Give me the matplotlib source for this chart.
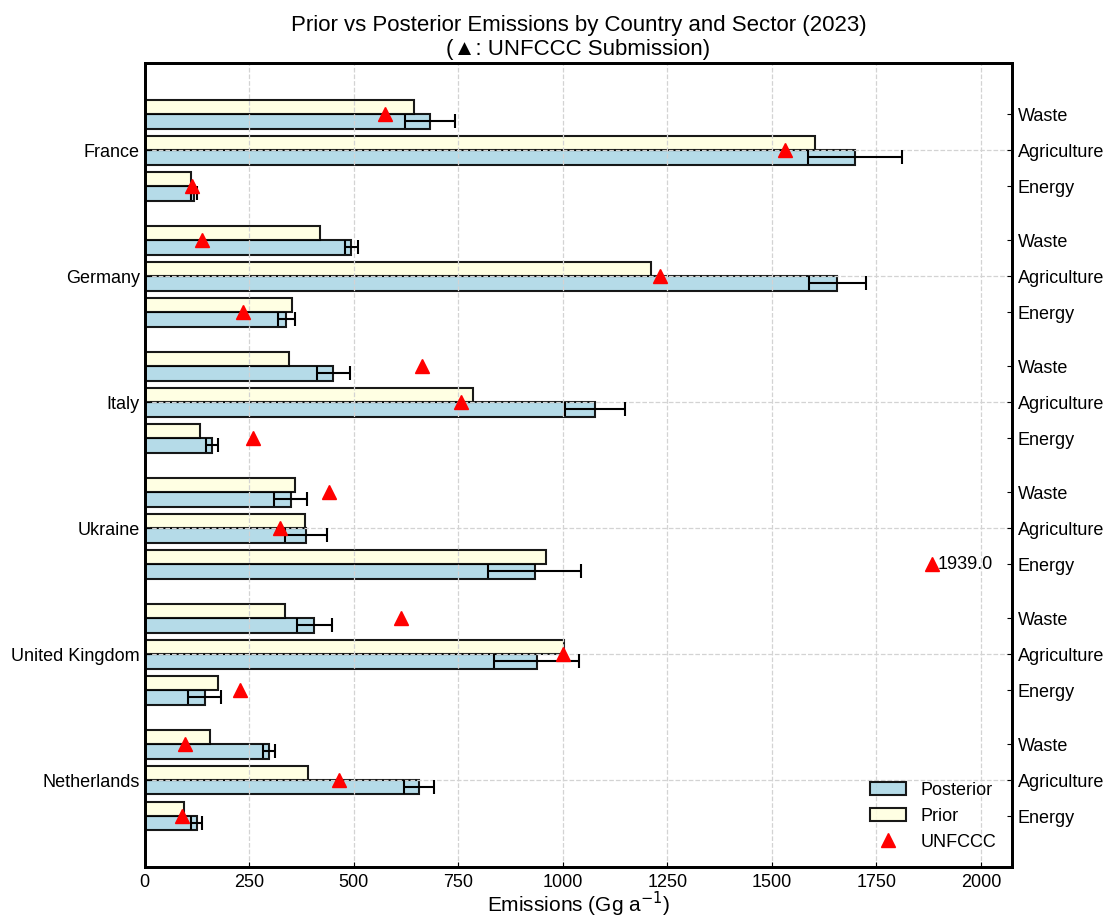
import numpy as np
import matplotlib
matplotlib.use("Agg")
import matplotlib.pyplot as plt

plt.rcParams['font.family'] = ['Liberation Sans', 'DejaVu Sans']

countries = ['France', 'Germany', 'Italy', 'Ukraine', 'United Kingdom', 'Netherlands']
sectors = ['Waste', 'Agriculture', 'Energy']

# rows follow countries, columns follow sectors (Waste, Agriculture, Energy)
prior = np.array([
    [644, 1602, 111],
    [418, 1211, 353],
    [346, 785, 132],
    [359, 384, 960],
    [335, 1002, 176],
    [156, 391, 93],
])
posterior = np.array([
    [683, 1699, 118],
    [494, 1656, 339],
    [451, 1077, 161],
    [349, 386, 933],
    [406, 937, 143],
    [297, 656, 124],
])
posterior_err = np.array([
    [60, 113, 7],
    [16, 68, 20],
    [39, 72, 15],
    [39, 50, 111],
    [42, 102, 39],
    [15, 35, 14],
])
unfccc = np.array([
    [574, 1531, 112],
    [138, 1233, 234],
    [662, 756, 259],
    [441, 323, 1939.0],
    [613, 1000, 229],
    [96, 465, 90],
])

group_gap = 3.5
bar_h = 0.4
xmax = unfccc.max() * 1.07

fig, ax = plt.subplots(figsize=(11.05, 9.17), dpi=100)
fig.subplots_adjust(left=0.131, right=0.916, top=0.931, bottom=0.0545)

ypos = np.array([[c * group_gap + s for s in range(len(sectors))]
                 for c in range(len(countries))])

post_bars = ax.barh(ypos.ravel() + bar_h / 2, posterior.ravel(), height=bar_h,
                    color='lightblue', edgecolor='black', linewidth=1.5, alpha=0.9,
                    xerr=posterior_err.ravel(), capsize=5,
                    error_kw=dict(ecolor='black', elinewidth=1.5, capthick=1.5),
                    label='Posterior')
prior_bars = ax.barh(ypos.ravel() - bar_h / 2, prior.ravel(), height=bar_h,
                     color='lightyellow', edgecolor='black', linewidth=1.5, alpha=0.9,
                     label='Prior')

# values past the plotting range are pinned near the edge and labelled
u = unfccc.ravel().astype(float)
edge = xmax * 0.908
shown = np.where(u > edge, edge, u)
tri, = ax.plot(shown, ypos.ravel(), linestyle='none', marker='^', color='red',
               markersize=10, label='UNFCCC', zorder=5)
for xv, xs, yv in zip(u, shown, ypos.ravel()):
    if xs != xv:
        ax.text(xs + 12, yv, '{:.1f}'.format(xv), va='center', ha='left',
                fontsize=13)

ax.set_xlim(0, xmax)
ax.set_yticks(ypos[:, 1])
ax.set_yticklabels(countries, fontsize=13)
ax.invert_yaxis()
ax.tick_params(axis='both', direction='in', labelsize=13)
ax.tick_params(axis='x', pad=5)
ax.set_xlabel('Emissions (Gg a$^{-1}$)', fontsize=15)
ax.xaxis.set_label_coords(0.5, -0.028)
ax.xaxis.label.set_va('top')
ax.grid(True, linestyle='--', color='lightgrey', linewidth=0.9)
for sp in ax.spines.values():
    sp.set_linewidth(2)

ax2 = ax.twinx()
ax2.set_ylim(ax.get_ylim())
ax2.set_yticks(ypos.ravel())
ax2.set_yticklabels(sectors * len(countries), fontsize=13)
ax2.tick_params(axis='y', direction='in', pad=4)
for sp in ax2.spines.values():
    sp.set_linewidth(2)

ax.set_title('Prior vs Posterior Emissions by Country and Sector (2023)\n'
             '(\u25B2: UNFCCC Submission)', fontsize=16)
ax.legend(handles=[post_bars, prior_bars, tri], loc='lower right',
          frameon=False, fontsize=13)

plt.savefig('out.png', dpi=100)
